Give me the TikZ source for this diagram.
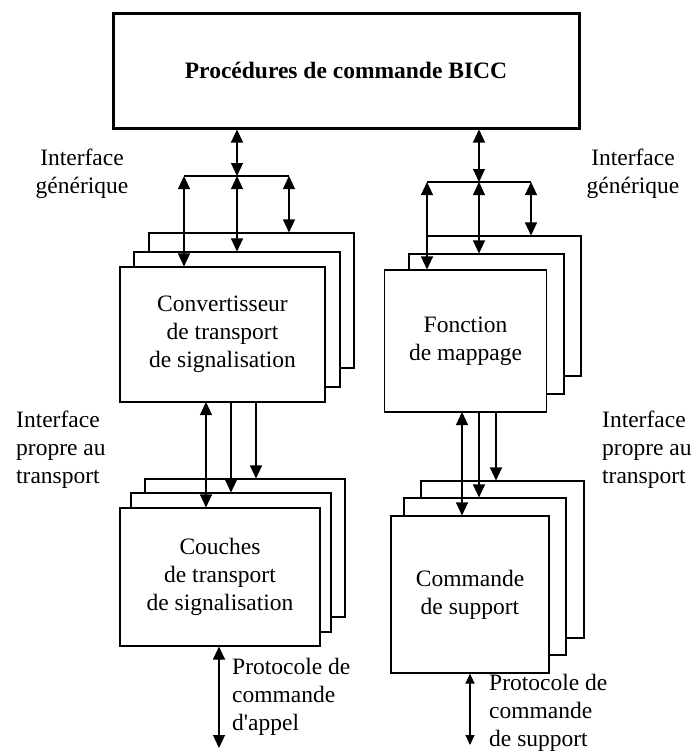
\documentclass[tikz,border=0pt]{standalone}
\usepackage{fontspec}
\setmainfont{Liberation Serif}[Ligatures=TeXOff]
\usetikzlibrary{arrows.meta}
\tikzset{
	blk/.style={draw, line width=1.1pt, fill=white, inner sep=0pt, align=center},
	lnk/.style={line width=1.1pt},
	lbl/.style={align=left, inner sep=0pt}
}

\begin{document}
\begin{tikzpicture}[x=1pt, y=-1pt, >={Triangle[length=13pt,width=12pt]},
		every node/.style={font=\fontsize{23.5}{28}\selectfont}]
		\useasboundingbox (0,0) rectangle (693,753);

		% bloc du haut
		\node [blk, line width=3pt, minimum width=466pt, minimum height=115pt] (bicc) at (346,70.5)
			{\bfseries Proc\'edures de commande BICC};

		% convertisseur (pile de trois)
		\node [blk, minimum width=205pt, minimum height=135pt] (cvB) at (251.5,300.5) {};
		\node [blk, minimum width=206pt, minimum height=135pt] (cvM) at (237,319.5) {};
		\node [blk, minimum width=205pt, minimum height=135pt] (cvF) at (222.5,334.5)
			{Convertisseur\\de transport\\de signalisation};

		% fonction de mappage
		\node [blk, minimum width=154pt, minimum height=140pt] (mpB) at (504,306) {};
		\node [blk, minimum width=155pt, minimum height=140pt] (mpM) at (486.5,324) {};
		\node [blk, minimum width=162pt, minimum height=142pt] (mpF) at (465.5,341)
			{Fonction\\de mappage};

		% couches de transport
		\node [blk, minimum width=200pt, minimum height=138pt] (ctB) at (245,548) {};
		\node [blk, minimum width=200pt, minimum height=139pt] (ctM) at (231,562.5) {};
		\node [blk, minimum width=200pt, minimum height=138pt] (ctF) at (220,577)
			{Couches\\de transport\\de signalisation};

		% commande de support
		\node [blk, minimum width=163pt, minimum height=157pt] (csB) at (502.5,559.5) {};
		\node [blk, minimum width=162pt, minimum height=157pt] (csM) at (485,576.5) {};
		\node [blk, minimum width=158pt, minimum height=157pt] (csF) at (470,594.5)
			{Commande\\de support};

		% interface generique, gauche
		\coordinate (lj) at (237,176);
		\coordinate (lja) at (184,176);
		\coordinate (ljb) at (289,176);
		\draw [lnk, <->] (bicc.south -| lj) -- (lj);
		\draw [lnk] (lja) -- (ljb);
		\draw [lnk, <->] (lja) -- (lja |- cvF.north);
		\draw [lnk, <->] (lj) -- (lj |- cvM.north);
		\draw [lnk, <->] (ljb) -- (ljb |- cvB.north);

		% interface generique, droite
		\coordinate (rj) at (479,182);
		\coordinate (rja) at (427,182);
		\coordinate (rjb) at (531,182);
		\draw [lnk, <->] (bicc.south -| rj) -- (rj);
		\draw [lnk] (rja) -- (rjb);
		\draw [lnk, <->] (rja) -- (rja |- mpF.north);
		\draw [lnk, <->] (rj) -- (rj |- mpM.north);
		\draw [lnk, <->] (rjb) -- (rjb |- mpB.north);

		% interface propre au transport
		\coordinate (lt1) at (206,402);
		\coordinate (lt2) at (231,402);
		\coordinate (lt3) at (256,402);
		\draw [lnk, <->] (lt1) -- (lt1 |- ctF.north);
		\draw [lnk, ->] (lt2) -- (lt2 |- ctM.north);
		\draw [lnk, ->] (lt3) -- (lt3 |- ctB.north);

		\coordinate (rt1) at (462,412);
		\coordinate (rt2) at (479,412);
		\coordinate (rt3) at (496,412);
		\draw [lnk, <->] (rt1) -- (rt1 |- csF.north);
		\draw [lnk, ->] (rt2) -- (rt2 |- csM.north);
		\draw [lnk, ->] (rt3) -- (rt3 |- csB.north);

		% protocoles
		\coordinate (lp) at (219,748);
		\coordinate (rp) at (470,745);
		\draw [lnk, <->] (ctF.south -| lp) -- (lp);
		\draw [lnk, {Triangle[length=10pt,width=9pt]}-{Triangle[length=10pt,width=9pt]}]
			(csF.south -| rp) -- (rp);

		% textes
		\node [lbl, align=center] (igl) at (82,174) {Interface\\g\'en\'erique};
		\node [lbl, align=center] (igr) at (633,174) {Interface\\g\'en\'erique};
		\node [lbl, anchor=west] (ipl) at (16,450) {Interface\\propre au\\transport};
		\node [lbl, anchor=west] (ipr) at (602,450) {Interface\\propre au\\transport};
		\node [lbl, anchor=west] (ppl) at (232,697) {Protocole de\\commande\\d'appel};
		\node [lbl, anchor=west] (ppr) at (489,713) {Protocole de\\commande\\de support};
	\end{tikzpicture}
\end{document}
